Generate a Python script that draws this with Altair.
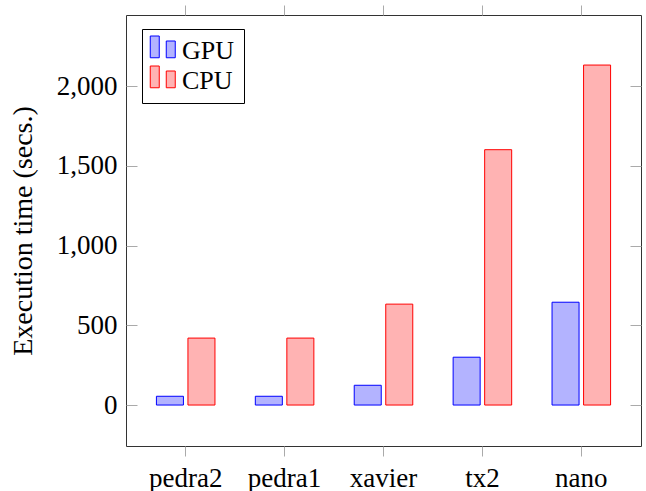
import altair as alt
import pandas as pd

devices = ["pedra2", "pedra1", "xavier", "tx2", "nano"]
gpu_times = [55, 55, 124, 300, 645]
cpu_times = [420, 420, 633, 1602, 2133]
procs = ["GPU", "CPU"]
fill_colors = ["#b3b3ff", "#ffb3b3"]
stroke_colors = ["#0000ff", "#ff0000"]
y_ticks = [0, 500, 1000, 1500, 2000]

rows = []
for d, g, c in zip(devices, gpu_times, cpu_times):
    rows.append({"device": d, "proc": "GPU", "time": g})
    rows.append({"device": d, "proc": "CPU", "time": c})
df = pd.DataFrame(rows)

FONT = "Liberation Serif"
FS = 27

# pgfplots-style ybar legend icon: two small bars side by side
legend_path = "M-1.1,-1.2H-0.38V0.54H-1.1Z M0.18,-0.8H0.9V0.54H0.18Z"

x_scale = alt.Scale(domain=devices, paddingInner=0, paddingOuter=0.1035)
y_scale = alt.Scale(domain=[-257, 2447], nice=False, zero=False)

y_axis = alt.Axis(orient="left", title="Execution time (secs.)", values=y_ticks,
                  format=",d", ticks=False, domain=False, grid=True,
                  gridDash=[11, 493], gridColor="#aaaaaa", gridWidth=1,
                  labelFont=FONT, labelFontSize=FS, labelColor="black",
                  labelPadding=9, titleFont=FONT, titleFontSize=28,
                  titleFontWeight="normal", titleColor="black", titlePadding=19)

leg = alt.Legend(
    orient="none", legendX=16, legendY=14, title=None,
    symbolType=legend_path, symbolSize=625, symbolStrokeWidth=1,
    symbolOpacity=1,
    labelFont=FONT, labelFontSize=26, labelColor="black", labelOffset=5,
    padding=9, rowPadding=0, strokeColor="black", fillColor="white",
)

bars = alt.Chart(df).mark_bar(strokeWidth=1, opacity=1).encode(
    x=alt.X("device:N", sort=devices, scale=x_scale,
            axis=alt.Axis(orient="bottom", title=None, labelAngle=0, tickSize=10,
                          tickColor="#aaaaaa", domain=False, grid=False,
                          labelFont=FONT, labelFontSize=FS, labelColor="black",
                          labelBaseline="alphabetic", labelPadding=30,
                          bandPosition=0.5)),
    xOffset=alt.XOffset("proc:N", sort=procs,
                        scale=alt.Scale(domain=procs, paddingInner=0.143, paddingOuter=0.64)),
    y=alt.Y("time:Q", scale=y_scale, axis=y_axis),
    color=alt.Color("proc:N", sort=procs,
                    scale=alt.Scale(domain=procs, range=fill_colors), legend=leg),
    stroke=alt.Stroke("proc:N", sort=procs,
                      scale=alt.Scale(domain=procs, range=stroke_colors), legend=leg),
)

top = alt.Chart(df).mark_bar(opacity=0).encode(
    x=alt.X("device:N", sort=devices, scale=x_scale,
            axis=alt.Axis(orient="top", labels=False, title=None, tickSize=10,
                          tickColor="#aaaaaa", domain=False, grid=False,
                          bandPosition=0.5)),
    y=alt.Y("time:Q", scale=y_scale, axis=y_axis),
)

chart = alt.layer(bars, top).properties(
    width=515, height=431,
    autosize=alt.AutoSizeParams(type="none"),
    padding={"left": 126, "top": 15, "right": 5, "bottom": 45},
).configure_view(stroke="#333333", strokeWidth=1)

chart.save("out.html", embed_options={"renderer": "svg", "actions": False})
